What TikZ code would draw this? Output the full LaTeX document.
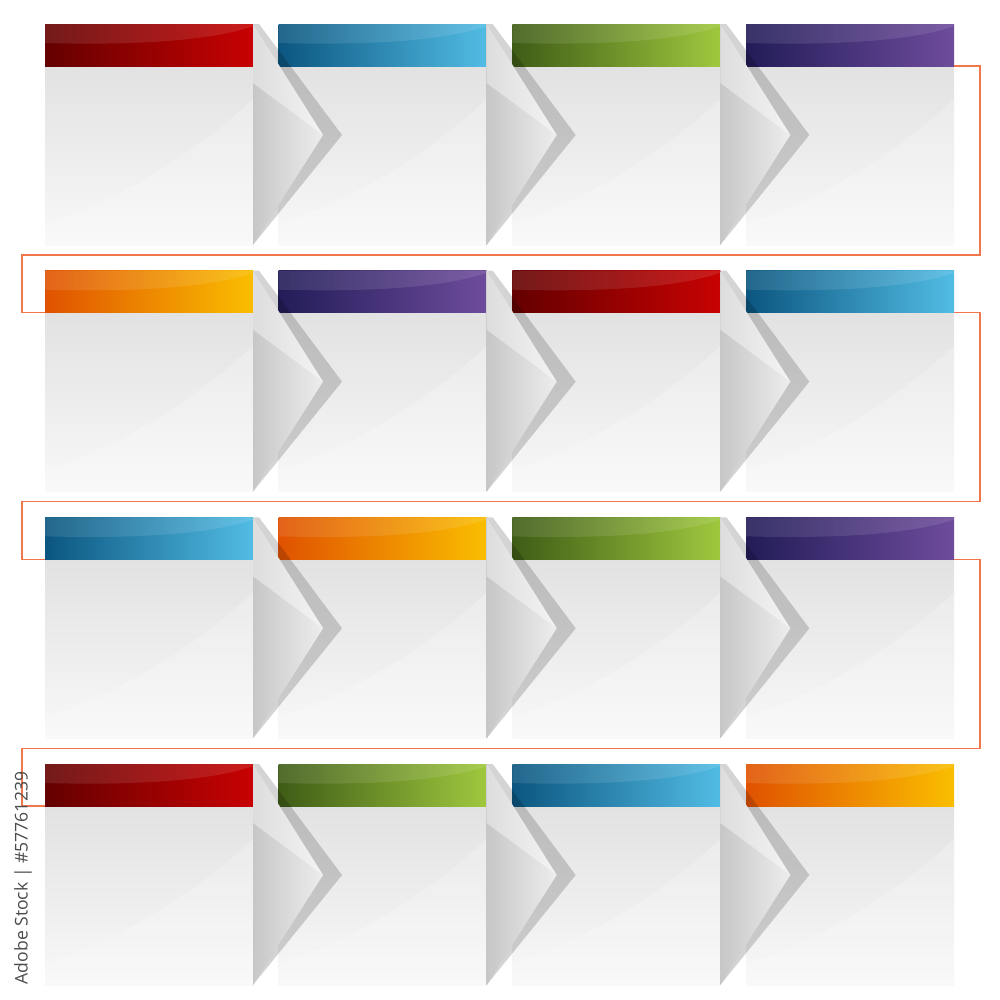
\documentclass[tikz,border=0pt]{standalone}
\usepackage{fontspec}
\newfontfamily\wmfont{Open Sans}
\usetikzlibrary{calc}
\definecolor{redL}{HTML}{640000}
\definecolor{redR}{HTML}{C80202}
\definecolor{blueL}{HTML}{0B5680}
\definecolor{blueR}{HTML}{52BCE4}
\definecolor{greenL}{HTML}{3F5C16}
\definecolor{greenR}{HTML}{A0C83E}
\definecolor{purpleL}{HTML}{221C58}
\definecolor{purpleR}{HTML}{6E4C9C}
\definecolor{orangeL}{HTML}{E05200}
\definecolor{orangeR}{HTML}{FABE00}
\definecolor{panelT}{HTML}{E2E2E2}
\definecolor{panelB}{HTML}{F8F8F8}
\definecolor{connC}{HTML}{F2764C}
\tikzset{
  hdr/.style={rectangle, inner sep=0pt, outer sep=0pt, minimum width=41.6mm, minimum height=8.4mm, anchor=north west},
  pnl/.style={rectangle, inner sep=0pt, outer sep=0pt, minimum width=41.6mm, minimum height=35.8mm, anchor=north west, top color=panelT, bottom color=panelB},
  conn/.style={draw=connC, line width=0.8pt},
}
\begin{document}
\begin{tikzpicture}[x=0.2mm,y=-0.2mm]
\fill[white] (0,0) rectangle (1000,1000);
\useasboundingbox (0,0) rectangle (1000,1000);
% cards
\foreach \r/\c/\col in {0/0/red,0/1/blue,0/2/green,0/3/purple,
                        1/0/orange,1/1/purple,1/2/red,1/3/blue,
                        2/0/blue,2/1/orange,2/2/green,2/3/purple,
                        3/0/red,3/1/green,3/2/blue,3/3/orange}{
  \pgfmathsetmacro\xo{45+233.67*\c}
  \pgfmathsetmacro\yo{24+246.67*\r}
  \node[pnl] (p-\r-\c) at (\xo,\yo+42) {};
  \fill[white,opacity=0.22] (\xo,\yo+221) -- (\xo,\yo+200) .. controls (\xo+90,\yo+170) and (\xo+160,\yo+120) .. (\xo+208,\yo+75) -- (\xo+208,\yo+221) -- cycle;
  \node[hdr, left color=\col L, right color=\col R] (h-\r-\c) at (\xo,\yo) {};
  \fill[white,opacity=0.1] (\xo,\yo) -- (\xo,\yo+19) .. controls (\xo+110,\yo+22) and (\xo+175,\yo+14) .. (\xo+208,\yo+2) -- (\xo+208,\yo) -- cycle;
}
% folds
\foreach \r in {0,1,2,3}{
  \foreach \c in {0,1,2}{
    \pgfmathsetmacro\xf{45+233.67*\c+208}
    \pgfmathsetmacro\yo{24+246.67*\r}
    \fill[black,opacity=0.17] (\xf,\yo) -- (\xf+6,\yo) -- (\xf+89,\yo+111) -- (\xf,\yo+221) -- cycle;
    \shade[left color=black!22, middle color=black!4, right color=black!7] (\xf,\yo) -- (\xf+70,\yo+111) -- (\xf,\yo+221) -- cycle;
    \fill[white,opacity=0.4] (\xf,\yo) -- (\xf+70,\yo+111) -- (\xf,\yo+59) -- cycle;
  }
}
% connectors
\foreach \r/\n in {0/1,1/2,2/3}{
  \draw[conn] (h-\r-3.south east) -- ++(26,0) -- ++(0,189) -- ++(-958,0) |- (h-\n-0.south west);
}
\node[rotate=90, text=black!70, font=\wmfont\fontsize{10}{12}\selectfont, inner sep=0pt] (wm) at (23,878) {Adobe Stock | \#57761239};
\end{tikzpicture}
\end{document}
